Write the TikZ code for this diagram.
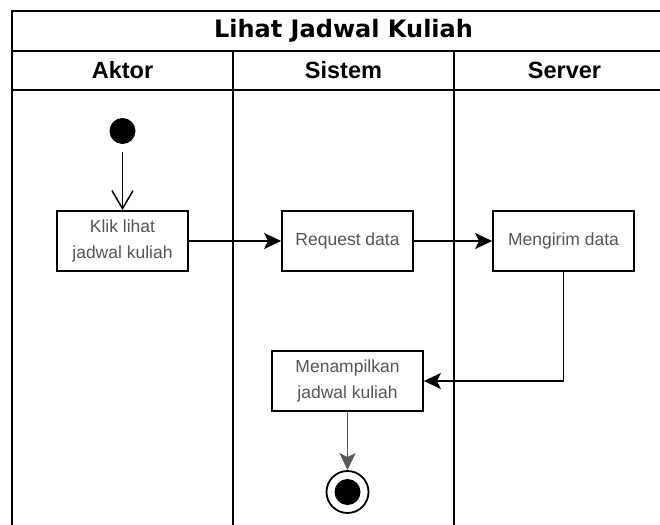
\documentclass[tikz,border=0pt]{standalone}
\usepackage{fontspec}
\setmainfont{Liberation Sans}
\newfontfamily\titlefont{DejaVu Sans}
\usetikzlibrary{arrows.meta}
\definecolor{boxtext}{RGB}{85,85,85}
\begin{document}
\begin{tikzpicture}[x=1pt,y=-1pt,line width=1.8pt,
  lanehead/.style={font=\fontsize{23.5}{28}\selectfont\bfseries},
  titletext/.style={font=\titlefont\fontsize{24}{28}\selectfont\bfseries},
  actbox/.style={draw,line width=1.8pt,minimum height=60pt,inner sep=0pt,align=center,
    text=boxtext,font=\fontsize{17.5}{26.5}\selectfont},
  flow/.style={-{Stealth[length=17pt,width=16pt,inset=4pt]}},
  openflow/.style={-{Straight Barb[length=18pt,width=21pt]}}]
\useasboundingbox (0,0) rectangle (660,524);
\fill[white] (0,0) rectangle (660,524);
\begin{scope}
\clip (0,0) rectangle (660,524);
\draw (12,540) -- (12,11) -- (675,11) -- (675,540);
\draw (12,51) -- (675,51);
\draw (12,90) -- (675,90);
\draw (233,51) -- (233,540);
\draw (454,51) -- (454,540);
\end{scope}
\node[titletext] (title) at (343.5,31) {Lihat Jadwal Kuliah};
\node[lanehead] (h1) at (122.5,70.5) {Aktor};
\node[lanehead] (h2) at (343.5,70.5) {Sistem};
\node[lanehead] (h3) at (564.5,70.5) {Server};

\node[circle,fill=black,minimum size=26pt,inner sep=0pt] (start) at (122.5,131) {};
\node[actbox,minimum width=131pt] (klik) at (122.5,241) {Klik lihat\\jadwal kuliah};
\node[actbox,minimum width=131pt] (req) at (347.5,241) {Request data};
\node[actbox,minimum width=141pt] (kirim) at (563.5,241) {Mengirim data};
\node[actbox,minimum width=151pt] (tampil) at (347.5,381) {Menampilkan\\jadwal kuliah};
\node[circle,draw,line width=1.8pt,minimum size=42pt,inner sep=0pt] (end) at (347.5,492) {};
\node[circle,fill=black,minimum size=26pt,inner sep=0pt] (endin) at (end.center) {};

\draw[openflow,line width=1.5pt] (start.south) ++(0,7) coordinate (s0) (s0) -- (klik.north);
\draw[flow] (klik.east) -- (req.west);
\draw[flow] (req.east) -- (kirim.west);
\draw[flow] (kirim.south) |- (tampil.east);
\draw[flow,draw=black!65] (tampil.south) -- (end.north);
\end{tikzpicture}
\end{document}
